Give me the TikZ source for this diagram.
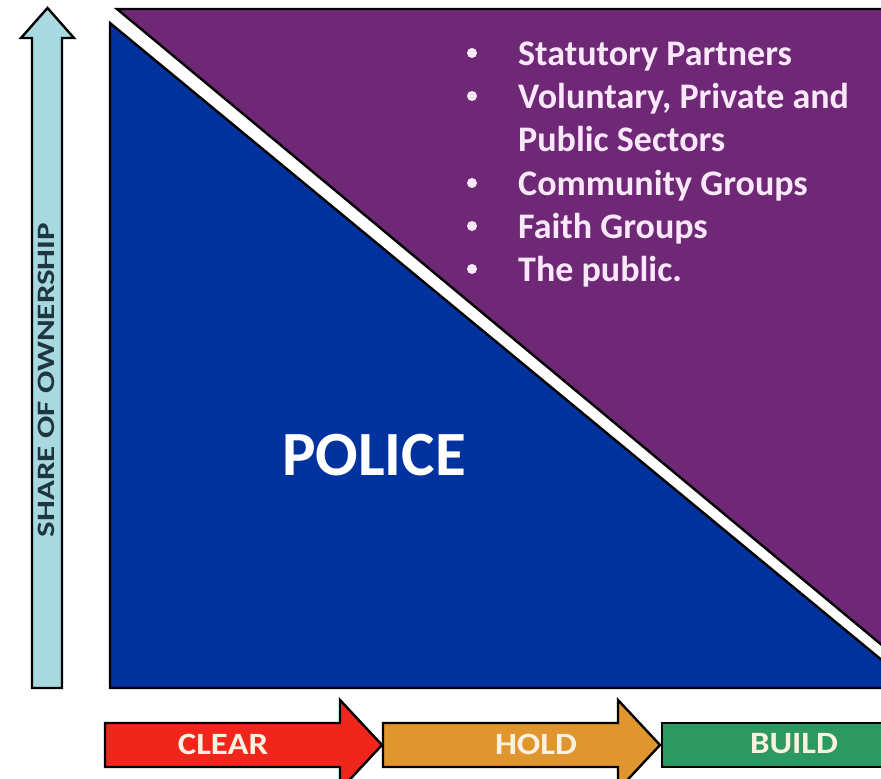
\documentclass[tikz,border=0pt]{standalone}
\usepackage{fontspec}
\setmainfont{Carlito}
\definecolor{policeblue}{RGB}{2,50,158}
\definecolor{partnerpurple}{RGB}{110,40,118}
\definecolor{axisblue}{RGB}{168,216,224}
\definecolor{clearred}{RGB}{240,38,28}
\definecolor{holdorange}{RGB}{224,150,46}
\definecolor{buildgreen}{RGB}{44,152,98}
\definecolor{listtext}{RGB}{250,232,250}
\definecolor{phasetext}{RGB}{252,240,225}
\tikzset{
  shape outline/.style={draw=black, line width=2.4pt, line join=miter},
  list item/.style={anchor=base west, inner sep=0pt, font=\bfseries\fontsize{36}{36}\selectfont, text=listtext},
  list bullet/.style={circle, fill=listtext, inner sep=0pt, minimum size=10pt},
  phase label/.style={inner sep=0pt, font=\bfseries\fontsize{31}{31}\selectfont, text=phasetext},
}
\begin{document}
\begin{tikzpicture}[x=1pt,y=-1pt]
\useasboundingbox (0,0) rectangle (881,779);
\clip (0,0) rectangle (881,779);
% purple upper triangle
\draw[shape outline, fill=partnerpurple] (117,9) -- (895,9) -- (895,656) -- cycle;
% blue lower region
\draw[shape outline, fill=policeblue] (110,23) -- (895,671) -- (895,688) -- (110,688) -- cycle;
% vertical axis arrow
\draw[shape outline, fill=axisblue] (32,688) -- (32,38) -- (21,38) -- (47.5,8) -- (74,38) -- (62,38) -- (62,688) -- cycle;
\node[rotate=90, inner sep=0pt, font=\bfseries\fontsize{25}{25}\selectfont, text={rgb,255:red,30;green,55;blue,62}] (axis) at (46,380) {\scalebox{1.32}[1]{SHARE OF OWNERSHIP}};
% phase arrows
\draw[shape outline, fill=clearred] (105,723) -- (340,723) -- (340,700) -- (382,745) -- (340,790) -- (340,767) -- (105,767) -- cycle;
\draw[shape outline, fill=holdorange] (383,723) -- (618,723) -- (618,700) -- (660,745) -- (618,790) -- (618,767) -- (383,767) -- cycle;
\draw[shape outline, fill=buildgreen] (662,723) rectangle (900,767);
\node[phase label] (clear) at (223,744) {\scalebox{1.12}[1]{CLEAR}};
\node[phase label] (hold) at (536,744) {\scalebox{1.12}[1]{HOLD}};
\node[phase label] (build) at (794,744) {\scalebox{1.12}[1]{BUILD}};
% police label
\node[inner sep=0pt, font=\bfseries\fontsize{63}{63}\selectfont, text=white] (police) at (374,455) {POLICE};
% list
\foreach \y/\t [count=\i] in {65/{Statutory Partners},108/{Voluntary, Private and},151/{Public Sectors},195/{Community Groups},238/{Faith Groups},281/{The public.}}{
  \node[list item] (item\i) at (518,\y) {\t};
}
\foreach \y [count=\i] in {53,96,183,226,269}{
  \node[list bullet] (bullet\i) at (472,\y) {};
}
\end{tikzpicture}
\end{document}
